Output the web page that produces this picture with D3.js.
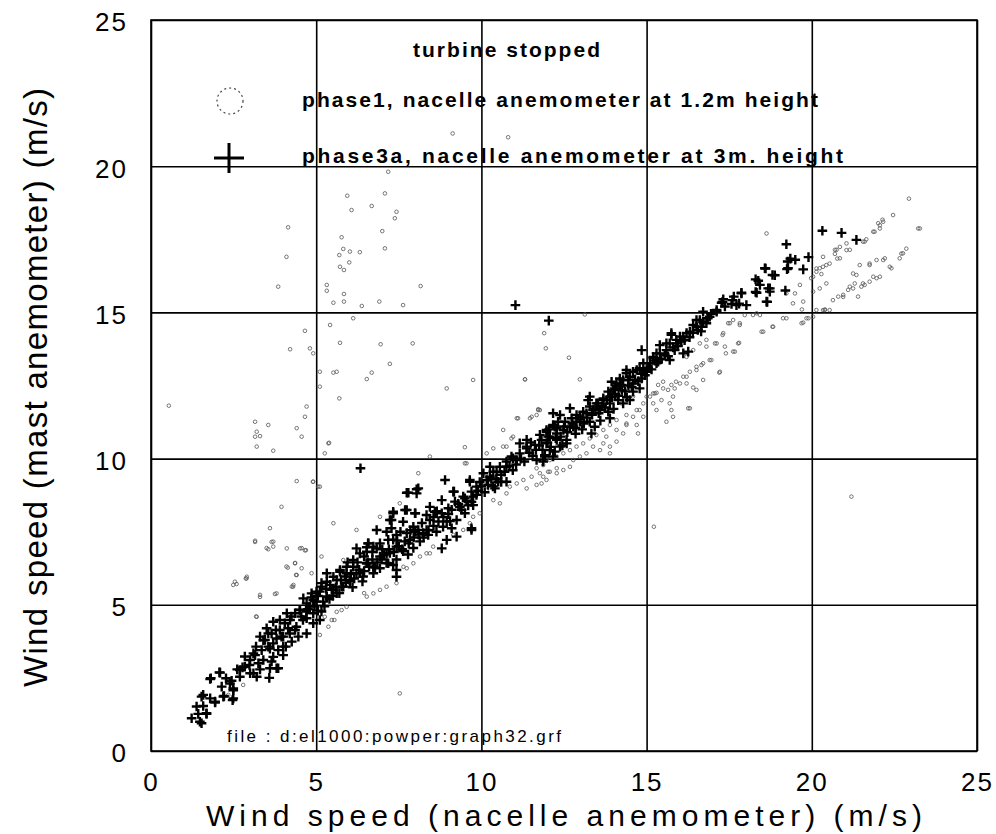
<!DOCTYPE html>
<html>
<head>
<meta charset="utf-8">
<script src="https://cdn.jsdelivr.net/npm/d3@7"></script>
<style>
  html, body { margin: 0; padding: 0; background: #fff; }
  svg { display: block; }
  text { font-family: "Liberation Sans", Arial, Helvetica, sans-serif; fill: #000; }
</style>
</head>
<body>
<svg id="chart" width="996" height="834"></svg>
<script>
// ---------------- data ----------------
const xTicks = [0, 5, 10, 15, 20, 25];
const yTicks = [0, 5, 10, 15, 20, 25];
const xTitle = "Wind speed (nacelle anemometer) (m/s)";
const yTitle = "Wind speed (mast anemometer) (m/s)";
const legendTitle = "turbine stopped";
const seriesNames = ["phase1, nacelle anemometer at 1.2m height", "phase3a, nacelle anemometer at 3m. height"];
const fileNote = "file : d:el1000:powper:graph32.grf";

// phase1 : [nacelle, mast] (small open circles)
const phase1 = [
[4.66,14.37],[4.21,13.74],[4.81,13.77],[4.91,13.6],[5.11,12.97],[5.11,12.46],[4.71,11.78],[4.66,11.43],[3.15,11.26],[3.55,11.15],
[3.2,10.92],[3.15,10.75],[3.3,10.77],[3.2,10.41],[3.7,10.27],[4.41,11.04],[4.56,10.75],[5.37,10.52],[5.26,10.18],[4.41,9.23],
[4.91,9.21],[5.11,9.04],[3.95,8.35],[3.6,7.62],[3.15,7.19],[3.7,7.16],[3.55,6.9],[3.7,6.99],[4.11,6.93],[4.51,6.93],
[4.69,6.87],[4.36,6.42],[4.14,6.27],[4.56,6.25],[4.39,6.02],[4.26,5.62],[4.86,6.08],[2.59,5.71],[2.87,5.9],[3.3,5.34],
[3.75,5.37],[0.54,11.81],[5.42,14.57],[5.72,13.96],[6.12,14.8],[6.95,13.91],[7.92,13.94],[7.23,13.24],[6.68,12.94],[6.53,12.72],
[5.52,12.94],[5.62,12.97],[5.7,12.06],[5.39,10.54],[8.95,12.4],[9.75,12.69],[9.5,10.39],[9.5,9.84],[10.16,10.18],[10.76,10.41],
[10.66,10.98],[11.32,12.71],[11.07,11.38],[11.47,11.38],[11.67,11.49],[11.72,11.69],[11.9,14.29],[11.95,13.77],[7.63,15.25],
[5.94,18.99],[7.08,19.07],[6.07,18.5],[6.68,18.64],[7.43,18.44],[7.38,18.22],[7.0,17.78],[5.77,17.57],[5.82,17.17],[6.02,17.08],
[6.32,17.06],[7.08,17.19],[5.7,16.96],[6.0,16.71],[5.72,16.56],[5.84,16.45],[5.32,15.94],[5.32,15.74],[5.84,15.63],[5.52,15.33],
[5.84,15.37],[6.38,15.22],[6.91,15.37],[8.16,15.9],[4.15,17.91],[4.1,16.9],[3.85,15.88],[9.13,21.12],[10.81,20.99],[7.18,19.81],
[12.65,13.45],[11.32,12.71],[12.98,12.71],[13.13,14.93],[11.72,11.66],[11.52,11.43],[11.11,11.38],[10.91,10.69],[10.66,10.41],[13.89,10.18],
[15.8,11.43],[15.6,11.26],[16.31,11.72],[17.2,12.94],[17.8,13.96],[17.67,13.66],[17.4,13.6],[17.12,13.94],[16.91,13.37],[16.71,13.26],
[16.51,13.14],[16.31,12.97],[16.11,12.8],[15.89,12.63],[15.75,12.52],[15.5,12.4],[15.3,12.25],[15.1,12.12],[16.21,13.48],[16.41,13.71],
[16.61,13.94],[16.81,14.06],[17.32,14.29],[17.52,14.63],[17.82,14.63],[18.22,14.91],[18.53,14.34],[18.81,14.51],[18.33,14.97],[19.23,14.8],
[17.62,14.74],[14.9,11.89],[14.7,11.66],[14.39,11.49],[14.09,11.32],[13.89,11.15],[13.69,10.98],[13.48,10.81],[13.28,10.69],[13.08,10.52],
[12.88,10.41],[12.68,10.29],[12.48,10.18],[12.28,10.07],[12.07,9.95],[11.87,9.78],[11.67,9.67],[15.2,12.23],[14.59,12.12],[14.24,11.89],
[13.99,11.66],[14.39,11.15],[14.09,10.98],[13.78,10.75],[14.9,11.43],[15.3,11.66],[15.7,11.89],[15.8,12.12],[16.21,12.57],[16.51,12.35],
[16.71,12.69],[17.07,13.94],[17.37,13.83],[17.62,13.66],[17.77,13.94],[17.3,14.23],[17.47,14.63],[17.82,14.57],[17.97,14.91],[18.43,14.91],
[18.83,14.51],[18.48,14.34],[19.74,14.65],[20.04,14.85],[20.39,15.08],[17.22,12.97],[16.81,13.83],[16.96,13.37],[16.66,13.2],[16.51,13.03],
[16.21,12.8],[16.41,12.43],[16.01,12.57],[15.85,12.4],[15.65,12.35],[15.5,12.63],[15.35,12.52],[15.25,12.23],[15.45,12.0],[15.2,11.89],
[15.75,11.66],[16.26,11.72],[15.0,12.12],[14.79,11.66],[14.59,11.43],[14.7,11.15],[14.39,11.2],[14.29,10.86],[14.09,10.58],[13.89,10.41],
[13.69,10.52],[13.59,10.29],[13.38,10.41],[13.18,10.18],[12.98,10.07],[12.78,9.95],[12.68,9.72],[12.48,9.61],[12.28,9.5],[12.07,9.55],
[11.87,9.38],[11.82,9.15],[14.74,10.86],[15.22,7.67],[21.2,8.7],
[10.16,8.93],[10.36,8.58],[10.56,8.47],[10.76,8.81],[10.86,9.04],[11.07,9.15],[11.27,9.27],[11.52,9.38],[11.77,9.5],[12.02,9.55],
[12.28,9.67],[11.67,9.1],[11.97,9.27],[11.37,8.98],[9.75,8.01],[9.95,8.13],[9.65,7.79],[9.45,7.56],[9.15,7.39],[8.54,6.99],
[8.34,6.76],[8.14,6.65],[7.94,6.42],[7.74,6.25],[7.43,5.74],[7.13,5.62],[6.93,5.51],[6.73,5.39],[6.53,5.28],[9.55,9.84],
[10.36,10.35],[11.77,11.66],[10.96,10.75],[8.44,10.07],[8.09,9.5],[7.53,8.47],[6.93,8.01],[6.22,7.56],[5.82,6.53],[5.52,7.79],
[5.16,6.65],[2.54,5.79],[2.9,5.96],[3.2,4.59],[3.8,5.39],[4.31,5.68],[5.26,4.59],[5.47,4.48],[5.62,4.76],[5.77,4.82],
[5.92,4.93],[5.37,4.25],[5.11,3.97],[2.79,2.26],[2.34,1.92],[7.53,1.97],[2.49,5.68],[2.89,5.9],[3.18,4.6],[3.3,5.27],
[4.3,5.62],[4.41,6.02],[4.1,6.31],[4.36,6.43],[4.56,6.94],[4.66,6.86],[3.15,7.15],[3.5,6.94],[3.65,7.15],[4.9,9.21],
[5.06,9.04],[7.64,6.3],[8.44,6.76],[6.45,5.4],[5.55,4.48],
[21.05,17.36],[20.75,17.14],[20.85,16.85],[20.34,16.9],[20.44,16.62],[20.24,16.51],[20.14,16.39],[20.29,16.31],[21.45,16.62],[21.75,16.62],
[21.96,16.79],[22.21,16.85],[22.41,16.51],[22.66,16.85],[22.76,17.02],[22.86,17.18],[22.06,16.22],[21.96,16.17],[21.75,16.05],[21.6,15.94],
[21.5,15.88],[21.3,15.99],[21.35,16.28],[21.15,15.88],[21.1,15.77],[20.95,15.6],[20.8,15.54],[20.64,15.42],[20.54,15.08],[20.34,15.08],
[19.98,16.17],[19.64,15.94],[19.49,15.65],[19.74,15.37],[19.43,15.31],[19.23,15.65],[20.04,15.71],[21.4,15.54],[19.84,14.8],[19.69,14.63],
[19.13,14.8],[22.01,18.05],[22.16,18.1],[22.06,17.87],[21.86,17.76],[22.46,18.33],[23.22,17.87],[21.55,17.42],[21.15,17.14],[20.7,17.14],
[22.94,18.89],[22.14,18.17],[22.06,17.98],[21.9,17.76],[21.6,17.42],[21.05,17.13],[20.77,16.84],[20.54,16.67],[20.34,16.56],[20.14,16.5],
[20.85,17.24],[20.7,17.0],[22.71,17.01],[22.36,16.56],[21.86,16.22],[21.55,15.99],[21.25,15.82],[20.95,15.53],[21.75,16.67],[22.16,16.79],
[21.25,16.33],[23.27,17.87],[21.65,17.5],[20.04,16.22],[20.24,15.82],[20.44,15.99],[18.63,17.7],[19.9,14.8],[20.14,15.08],[20.4,15.1],[19.7,15.1]
];

// phase3a : [nacelle, mast] (plus markers)
const phase3a = [
[1.23,1.12],[1.48,1.0],[1.43,1.27],[1.68,1.27],[1.58,1.54],[1.53,1.86],[1.79,1.80],[1.94,1.66],[1.81,2.49],[2.09,2.68],
[2.27,2.49],[2.14,2.2],[2.47,1.74],[2.21,1.88],[2.39,2.31],[2.49,2.08],[2.69,2.54],[2.61,2.79],[2.77,2.86],[2.98,2.94],
[2.84,3.23],[3.1,3.34],[3.0,2.66],[3.2,2.54],[3.58,2.5],[3.3,2.79],[3.4,3.11],[3.65,3.06],[3.8,2.83],[3.18,3.57],
[3.4,3.79],[3.55,4.02],[3.78,4.14],[3.6,3.5],[3.85,3.45],[4.0,3.28],[4.08,3.57],[3.95,3.91],[3.7,4.42],[4.05,4.37],
[4.25,4.6],[4.4,4.25],[4.2,4.02],[4.46,3.91],[4.6,4.48],[4.5,4.83],[4.7,4.77],[4.8,4.94],[4.91,4.37],[5.01,5.11],
[5.16,4.77],[5.21,5.11],[5.32,5.28],[5.47,5.51],[5.62,5.4],[5.77,5.62],[5.87,5.97],[6.02,5.8],[6.22,6.08],[6.42,5.97],
[6.57,6.43],[6.78,6.27],[6.98,6.55],[7.13,6.43],[7.23,6.77],[7.43,6.55],[7.63,6.83],[7.78,6.72],[7.33,7.23],[7.68,7.17],
[7.94,6.94],[8.14,7.17],[8.39,7.39],[8.64,7.5],[8.84,7.67],[9.1,7.62],
[1.79,2.46],[2.07,2.69],[2.44,2.4],[2.49,2.14],[2.69,2.77],[2.84,2.88],[3.0,3.11],[3.15,3.28],[3.25,3.0],[3.1,2.66],
[3.35,3.45],[3.55,3.57],[3.7,3.68],[3.45,3.8],[3.3,3.91],[3.65,4.02],[3.9,4.14],[3.8,3.85],[4.0,3.91],[4.15,4.2],
[3.5,4.2],[3.9,4.48],[4.21,4.48],[4.36,4.71],[4.11,4.71],[4.51,4.82],[4.71,5.05],[4.91,5.16],[4.61,5.22],[4.86,5.39],
[5.11,5.45],[5.16,5.74],[5.42,5.68],[5.62,5.85],[5.32,6.08],[5.72,6.19],[5.92,6.08],[6.12,6.3],[6.53,6.42],[6.73,6.08],
[6.93,6.25],[7.18,6.42],[7.43,6.19],[4.71,4.54],[4.91,4.71],[5.11,4.48],[4.36,4.14],[4.71,4.02],[4.26,3.74],[4.0,3.57],
[3.7,3.22],[3.85,2.83],[3.6,2.83],[2.49,1.8],[2.19,1.86],[1.94,1.69],[1.58,1.92],[1.38,1.52],[1.68,1.29],[1.53,0.95],
[6.34,9.67],[8.9,9.27],[7.79,8.83],[8.04,8.95],[7.33,8.18],[7.69,8.24],[7.23,7.9],[8.0,8.13],[7.28,7.62],[6.58,7.1],
[6.53,6.97],[9.17,8.87],[9.5,8.64],[9.7,8.52],[9.65,9.27],[9.25,7.33],[9.7,7.62],[9.05,7.86],
[11.37,10.41],[11.07,9.95],[10.76,9.72],[10.46,9.55],[10.16,9.27],[9.85,9.04],[9.65,9.21],[9.7,8.87],[9.45,8.7],[9.2,8.53],
[9.15,8.87],[9.35,8.35],[9.0,8.3],[8.8,8.13],[8.59,8.18],[8.44,7.9],[8.34,7.56],[8.09,7.56],[7.94,7.67],[7.74,7.45],
[7.43,7.39],[7.18,7.22],[6.93,7.1],[6.73,6.99],[6.53,6.82],[6.32,6.76],[6.12,6.53],[5.92,6.3],[5.72,6.13],[5.52,5.96],
[5.32,5.79],[5.16,5.62],[5.01,5.45],[7.33,8.13],[7.74,8.24],[7.99,8.13],[7.28,7.9],[7.63,7.84],[6.83,7.56],[7.13,7.5],
[6.57,7.1],[7.13,6.76],[7.43,6.99],[6.93,6.65],[6.73,6.3],[6.53,6.42],[6.32,6.08],[6.02,5.85],[5.82,5.62],[5.52,5.51],
[5.32,5.28],[6.83,6.93],[6.22,6.93],[8.04,8.81],[7.74,8.83],[8.09,8.98],[10.26,9.72],[10.51,9.21],[10.91,10.07],[11.16,10.52],
[11.37,10.64],[11.77,10.81],[11.97,10.92],[12.22,11.09],[12.28,10.64],[12.07,10.29],[11.92,10.12],[11.67,9.95],[12.17,11.55],[10.76,9.21],
[10.06,9.5],[10.41,8.98],[9.85,8.76],[9.75,8.41],[9.5,8.13],[9.25,7.9],[9.7,7.56],[8.8,8.58],[8.44,8.35],[8.34,8.07],
[8.24,7.45],[7.84,7.22],[8.95,7.22],[8.8,6.93],[7.33,6.36],[7.43,5.96],
[11.03,15.25],[12.04,14.72],[19.23,17.33],[19.28,16.51],[18.58,16.51],[18.81,16.28],[18.3,16.13],[18.43,15.94],[18.68,15.82],[18.73,15.71],
[18.33,15.67],[17.87,15.67],[17.64,15.54],[17.32,15.45],[17.72,15.25],[18.02,15.25],[18.63,15.37],[17.12,15.08],[17.37,15.2],[16.71,15.02],
[16.91,14.85],[16.61,14.74],[16.81,14.63],[16.51,14.51],[16.31,14.34],[16.11,14.17],[15.75,14.29],[15.9,14.06],[15.7,13.94],[15.6,13.71],
[15.4,13.6],[15.2,13.48],[15.3,13.26],[15.1,13.26],[14.9,13.26],[15.0,13.03],[14.85,13.71],[14.7,13.03],[14.49,12.8],[14.59,12.57],
[14.29,12.69],[14.19,12.46],[13.99,12.35],[13.89,12.12],[13.69,12.0],[13.48,11.89],[13.28,11.78],[13.18,11.55],[12.98,11.43],[12.68,11.72],
[12.88,11.26],[12.68,11.09],[12.48,10.98],[12.28,10.86],[12.07,10.75],[11.82,10.64],[11.62,10.47],[11.37,10.35],[11.16,10.18],[10.96,10.01],
[10.76,9.9],[10.56,9.72],[10.36,9.55],[10.26,9.38],[12.58,10.52],[11.97,10.52],[13.28,12.12],[14.09,12.57],[14.39,13.03],[16.26,13.66],
[17.27,15.33],[17.57,15.29],[17.12,15.02],[16.51,14.74],[16.71,14.68],[16.66,14.51],[16.41,14.57],[16.21,14.29],[16.01,14.17],[15.75,14.23],
[15.9,13.94],[15.6,13.94],[15.4,13.88],[16.11,13.6],[15.85,13.71],[15.3,13.6],[15.2,13.43],[15.35,13.31],[15.7,13.37],[14.79,13.09],
[15.0,12.97],[14.59,12.97],[14.39,12.92],[14.19,12.74],[13.94,12.63],[14.44,12.69],[14.24,12.52],[14.04,12.4],[13.84,12.29],[14.49,12.0],
[14.29,11.89],[13.89,11.89],[13.69,12.06],[13.53,11.89],[13.59,11.66],[13.38,11.66],[13.23,12.0],[13.08,11.6],[12.88,11.49],[12.38,11.49],
[12.73,11.38],[12.53,11.26],[12.32,11.26],[12.17,11.15],[11.97,10.98],[12.02,10.75],[12.28,11.04],[12.78,11.09],[12.98,11.26],[13.28,11.26],
[13.43,11.09],[13.33,10.86],[12.58,10.64],[12.38,10.41],[12.22,10.24],[11.92,10.07],[12.17,10.07],[11.87,9.9],[13.84,11.6],[13.89,11.38],
[14.14,12.0],[14.59,12.29],[14.79,12.4],[14.85,12.74],
[20.32,17.79],[20.9,17.72],[21.35,17.48],[19.9,16.89],[19.35,16.84],[18.6,16.5],[19.25,16.48],[19.74,16.47],[18.88,16.27],[18.38,16.08],
[18.73,15.82],[18.3,15.7],[17.87,15.65],[17.6,15.42],[17.3,15.36],[17.8,15.3],[18.65,15.36],[19.5,16.8],[19.27,16.74],[19.2,15.75],
[4.55,4.6],[4.75,4.85],[4.95,4.95],[5.05,4.8],[5.25,4.95],[5.4,5.2],[4.85,5.25],[5.05,5.3],[5.3,5.55],[5.5,5.3],
[5.6,5.6],[5.75,5.85],[5.9,5.75],[6.05,6.05],[6.15,5.9],[6.3,6.2],[6.45,6.15],[6.6,6.3],[6.7,6.55],[6.85,6.45],
[5.95,6.45],[6.25,6.45],[6.45,6.65],[6.7,6.8],[5.7,5.4],[6.1,5.6],[6.4,5.8],
[7.05,6.7],[7.2,6.9],[7.35,6.8],[7.5,7.0],[7.6,6.9],[7.8,7.1],[7.95,7.3],[8.1,7.4],[8.25,7.3],[8.4,7.55],
[8.55,7.7],[8.7,7.85],[8.85,8.0],[8.95,7.85],[7.55,7.5],[7.85,7.55],[8.2,7.8],[8.55,8.0],[7.0,6.9],[7.45,7.2],
[8.0,7.5],[8.65,8.2],[9.0,8.1],[9.1,8.25],
[9.3,8.45],[9.4,8.25],[9.55,8.55],[9.6,8.4],[9.75,8.7],[9.9,8.9],[10.0,9.05],[10.1,8.85],[10.2,9.1],[10.3,9.3],
[10.45,9.3],[10.6,9.45],[10.7,9.55],[10.85,9.75],[10.95,9.6],[9.95,9.2],[10.35,9.05],[10.6,9.2],[11.05,9.8],
[11.2,10.0],[11.3,9.9],[11.45,10.2],[11.55,10.1],[11.65,10.3],[11.75,10.45],[11.85,10.3],[12.0,10.55],[12.1,10.4],[12.25,10.7],
[12.4,10.75],[12.5,11.1],[12.6,10.9],[12.75,11.2],[12.85,11.05],[13.0,11.35],[13.1,11.2],[12.45,10.45],[12.85,10.85],[13.05,11.0],
[11.5,10.55],[12.05,11.0],
[13.2,11.4],[13.35,11.5],[13.45,11.7],[13.55,11.55],[13.65,11.8],[13.75,11.75],[13.8,12.0],[13.95,12.1],[14.05,12.2],[14.15,12.15],
[14.25,12.35],[14.35,12.3],[14.45,12.5],[14.55,12.45],[14.65,12.7],[14.75,12.65],[14.85,12.9],[14.95,12.85],[13.6,11.3],[14.0,11.7],
[14.4,12.1],
[15.05,13.1],[15.15,13.05],[15.25,13.35],[15.45,13.4],[15.55,13.55],[15.65,13.5],[15.8,13.8],[15.95,13.85],[16.05,14.0],[16.15,14.05],
[16.3,14.15],[16.4,14.3],[16.55,14.4],[16.65,14.35],[16.85,14.8],[16.95,14.95]
];

// ---------------- drawing ----------------
const svg = d3.select("#chart");
const x = d3.scaleLinear().domain([0, 25]).range([151, 977]);
const y = d3.scaleLinear().domain([0, 25]).range([751, 20]);
const plotW = x(25) - x(0), plotH = y(0) - y(25);

// grid lines
svg.append("g")
  .attr("transform", `translate(0,${y(0)})`)
  .call(d3.axisBottom(x).tickValues(xTicks).tickSize(-plotH).tickFormat(""))
  .call(g => g.select(".domain").remove())
  .call(g => g.selectAll("line").attr("stroke", "#000").attr("stroke-width", 1.6));
svg.append("g")
  .attr("transform", `translate(${x(0)},0)`)
  .call(d3.axisLeft(y).tickValues(yTicks).tickSize(-plotW).tickFormat(""))
  .call(g => g.select(".domain").remove())
  .call(g => g.selectAll("line").attr("stroke", "#000").attr("stroke-width", 1.6));

// frame
svg.append("rect")
  .attr("x", x(0)).attr("y", y(25)).attr("width", plotW).attr("height", plotH)
  .attr("fill", "none").attr("stroke", "#000").attr("stroke-width", 1.6);

// tick labels
svg.append("g")
  .attr("transform", `translate(0,${y(0)})`)
  .call(d3.axisBottom(x).tickValues(xTicks).tickSize(0).tickPadding(22).tickFormat(d3.format("d")))
  .call(g => g.select(".domain").remove())
  .call(g => g.selectAll("text").attr("font-size", 26).attr("letter-spacing", 2)
    .attr("font-family", "'Liberation Sans', Arial, sans-serif").attr("fill", "#000"));
svg.append("g")
  .attr("transform", `translate(${x(0)},0)`)
  .call(d3.axisLeft(y).tickValues(yTicks).tickSize(0).tickPadding(23).tickFormat(d3.format("d")))
  .call(g => g.select(".domain").remove())
  .call(g => g.selectAll("text").attr("font-size", 26).attr("letter-spacing", 2).attr("dy", "0.42em")
    .attr("font-family", "'Liberation Sans', Arial, sans-serif").attr("fill", "#000"));

// axis titles
svg.append("text")
  .attr("x", (x(0) + x(25)) / 2).attr("y", 826)
  .attr("text-anchor", "middle").attr("font-size", 30)
  .attr("textLength", 716).attr("lengthAdjust", "spacing")
  .text(xTitle);
svg.append("text")
  .attr("transform", `translate(47,${(y(0) + y(25)) / 2 + 2}) rotate(-90)`)
  .attr("text-anchor", "middle").attr("font-size", 33)
  .attr("textLength", 599).attr("lengthAdjust", "spacing")
  .text(yTitle);

// phase1 circles
svg.append("g").selectAll("circle").data(phase1).join("circle")
  .attr("cx", d => x(d[0])).attr("cy", d => y(d[1])).attr("r", 1.8)
  .attr("fill", "none").attr("stroke", "#555").attr("stroke-width", 0.8);

// phase3a crosses
svg.append("g").selectAll("path").data(phase3a).join("path")
  .attr("d", d => `M${x(d[0]) - 4.8},${y(d[1])}H${x(d[0]) + 4.8}M${x(d[0])},${y(d[1]) - 4.8}V${y(d[1]) + 4.8}`)
  .attr("stroke", "#000").attr("stroke-width", 2.4).attr("fill", "none");

// legend
svg.append("text").attr("x", 413).attr("y", 57).attr("font-size", 21).attr("font-weight", "bold")
  .attr("textLength", 187).attr("lengthAdjust", "spacing").text(legendTitle);
svg.append("circle").attr("cx", 230).attr("cy", 101).attr("r", 13)
  .attr("fill", "none").attr("stroke", "#444").attr("stroke-width", 1.2).attr("stroke-dasharray", "2,3");
svg.append("text").attr("x", 302).attr("y", 107).attr("font-size", 21).attr("font-weight", "bold")
  .attr("textLength", 516).attr("lengthAdjust", "spacing").text(seriesNames[0]);
svg.append("path").attr("d", "M214,158H244M229,143V173")
  .attr("stroke", "#000").attr("stroke-width", 3);
svg.append("text").attr("x", 302).attr("y", 163).attr("font-size", 21).attr("font-weight", "bold")
  .attr("textLength", 541).attr("lengthAdjust", "spacing").text(seriesNames[1]);

// file note
svg.append("text").attr("x", 227).attr("y", 742).attr("font-size", 17)
  .attr("textLength", 334).attr("lengthAdjust", "spacing").text(fileNote);
</script>
</body>
</html>
